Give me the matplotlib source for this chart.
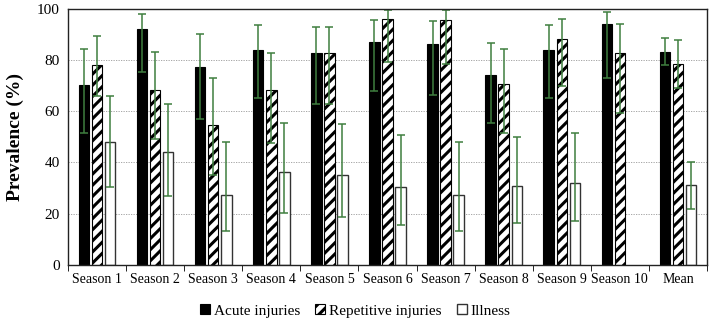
import numpy as np
import matplotlib
matplotlib.use("Agg")
import matplotlib.pyplot as plt

plt.rcParams['font.family'] = ['Liberation Serif', 'DejaVu Serif']
plt.rcParams['hatch.linewidth'] = 2.2

seasons = ["Season 1", "Season 2", "Season 3", "Season 4", "Season 5", "Season 6",
           "Season 7", "Season 8", "Season 9", "Season 10", "Mean"]

# values and error bar ends (lower, upper)
acute = [70.2, 91.9, 77.1, 83.8, 82.5, 86.9, 86.3, 74.0, 83.8, 94.0, 83.0]
acute_lo = [51.5, 75.1, 56.8, 65.2, 62.8, 68.0, 66.4, 55.4, 65.2, 72.9, 77.9]
acute_hi = [84.2, 97.9, 89.9, 93.6, 92.9, 95.4, 95.2, 86.7, 93.6, 98.8, 88.5]

repet = [78.0, 68.2, 54.5, 68.2, 82.7, 95.8, 95.5, 70.4, 88.1, 82.5, 78.4]
repet_lo = [66.0, 49.0, 35.0, 47.5, 62.8, 79.1, 78.2, 51.4, 69.9, 59.1, 68.9]
repet_hi = [89.4, 82.9, 73.0, 82.8, 92.9, 99.3, 99.3, 84.1, 95.8, 93.8, 87.7]

illness = [48.0, 44.0, 27.4, 36.1, 35.0, 30.5, 27.4, 30.8, 32.1, np.nan, 31.2]
illness_lo = [30.5, 26.8, 13.3, 20.2, 18.8, 15.5, 13.3, 16.5, 17.3, np.nan, 21.8]
illness_hi = [66.0, 62.9, 48.0, 55.4, 55.0, 50.8, 48.0, 50.0, 51.6, np.nan, 40.2]

err_color = "#3f7f3f"
x = np.arange(len(seasons))
w = 0.18
step = 0.225

fig = plt.figure(figsize=(7.1, 3.23), dpi=100)
ax = fig.add_axes([68 / 710, 1 - 265 / 323, 639 / 710, 256.5 / 323])

def yerr(v, lo, hi):
    v, lo, hi = np.array(v), np.array(lo), np.array(hi)
    return [v - lo, hi - v]

ekw = dict(ecolor=err_color, elinewidth=1.1, capsize=3, capthick=1.1)
ax.bar(x - step, acute, w, color="black", edgecolor="black", linewidth=0.8,
       yerr=yerr(acute, acute_lo, acute_hi), error_kw=ekw, label="Acute injuries", zorder=2)
ax.bar(x, repet, w, color="white", edgecolor="black", hatch="///", linewidth=0.8,
       yerr=yerr(repet, repet_lo, repet_hi), error_kw=ekw, label="Repetitive injuries", zorder=2)
ax.bar(x + step, illness, w, color="white", edgecolor="#333333", linewidth=1.0,
       yerr=yerr(illness, illness_lo, illness_hi), error_kw=ekw, label="Illness", zorder=2)

ax.set_xlim(-0.5, len(seasons) - 0.5)
ax.set_ylim(0, 100)
ax.set_yticks(range(0, 101, 20))
ax.tick_params(axis='y', length=0, labelsize=11, pad=6)
ax.set_xticks(x)
ax.set_xticklabels(seasons, fontsize=10)
ax.tick_params(axis='x', length=0, pad=6)
ax.set_xticks(np.arange(-0.5, len(seasons), 1), minor=True)
ax.tick_params(axis='x', which='minor', length=4, direction='out')
ax.yaxis.grid(True, linestyle=(0, (1.5, 1.5)), color="#999999", linewidth=0.6, zorder=0)
ax.set_axisbelow(True)
ax.set_ylabel("Prevalence (%)", fontsize=14, fontweight="bold", labelpad=9)
for s in ax.spines.values():
    s.set_color("#222222")
    s.set_linewidth(1.0)

fig.legend(loc="center", bbox_to_anchor=(0.5, 1 - 311 / 323), ncol=3, frameon=False,
           fontsize=11, handlelength=0.65, handleheight=0.65, handletextpad=0.25,
           columnspacing=1.0)

fig.savefig("out.png", dpi=100)
